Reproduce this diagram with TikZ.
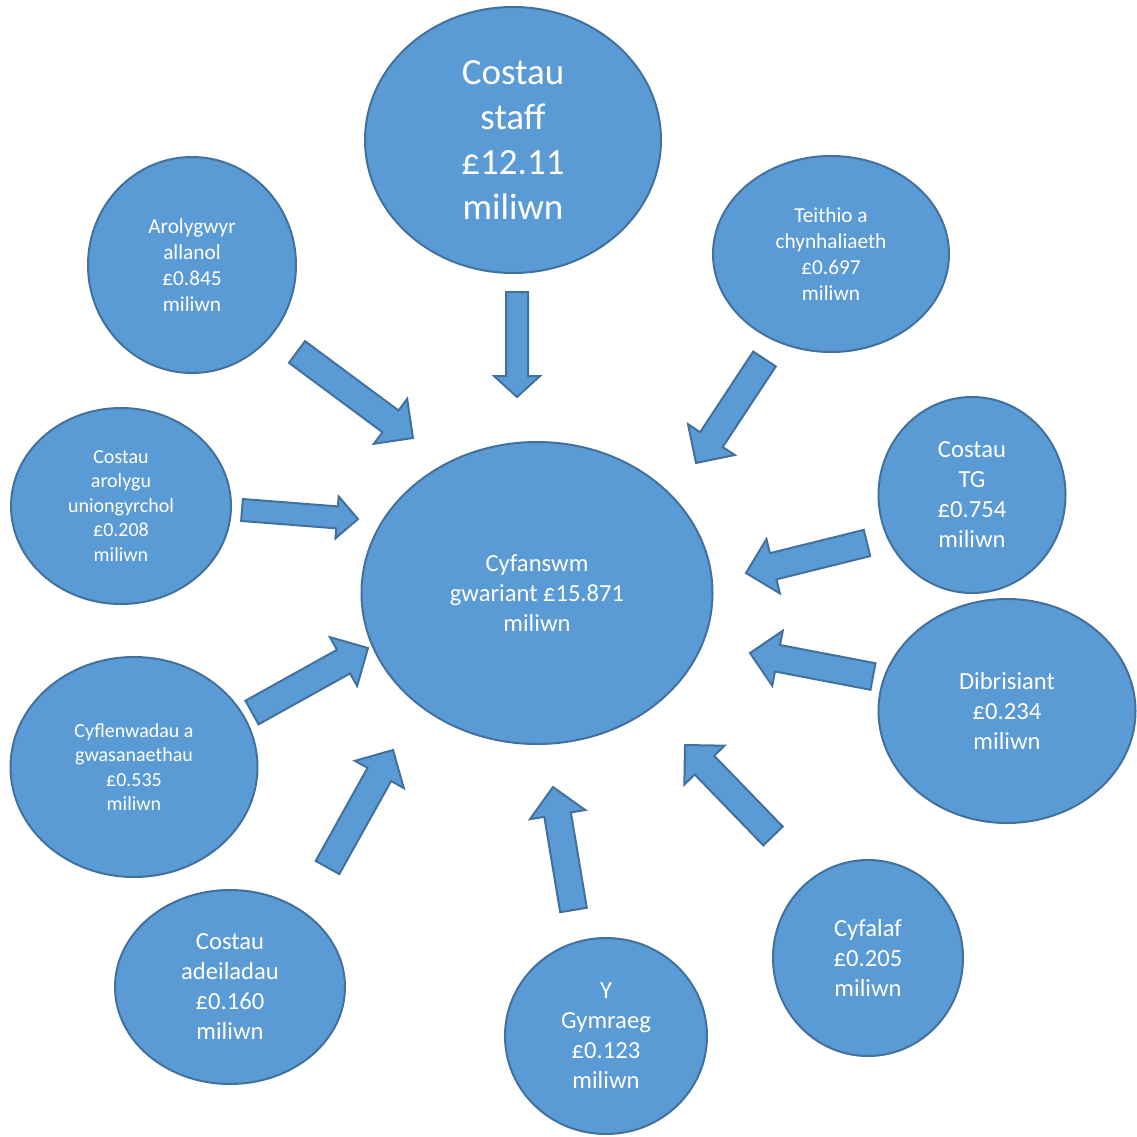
\documentclass[tikz,border=0pt]{standalone}
\usepackage{fontspec}
\setmainfont{Carlito}
\usetikzlibrary{shapes.geometric,calc}
\definecolor{bfill}{HTML}{5B9BD5}
\definecolor{bline}{HTML}{41719C}
\newcommand\mkblockarrow[5]{%
  \coordinate (#1h) at ($(#2)!#5!(#1)$);
  \draw[barrow] ($(#1)!#3!90:(#2)$) -- ($(#1h)!#3!90:(#2)$) -- ($(#1h)!#4!90:(#2)$) -- (#2)
    -- ($(#1h)!#4!-90:(#2)$) -- ($(#1h)!#3!-90:(#2)$) -- ($(#1)!#3!-90:(#2)$) -- cycle;}
\tikzset{
  bubble/.style 2 args={ellipse, draw=bline, fill=bfill, line width=2pt, inner sep=0pt,
    minimum width=#1pt, minimum height=#2pt, text=white, align=center},
  fbig/.style={font=\fontsize{37}{45}\selectfont},
  fmed/.style={font=\fontsize{24.6}{30}\selectfont},
  fsmall/.style={font=\fontsize{21.3}{26}\selectfont},
  ftiny/.style={font=\fontsize{20}{24.5}\selectfont},
  barrow/.style={draw=bline, fill=bfill, line width=2pt}
}
\begin{document}
\begin{tikzpicture}[x=1pt,y=-1pt]
\useasboundingbox (0,0) rectangle (1137,1137);
% bubbles
\node[bubble={296}{266},fbig] (staff) at (513,140) {Costau\\staff\\£12.11\\miliwn};
\node[bubble={208}{216},fsmall] (arol) at (192,265) {Arolygwyr\\allanol\\£0.845\\miliwn};
\node[bubble={236}{196},fsmall] (teith) at (831,254) {Teithio a\\chynhaliaeth\\£0.697\\miliwn};
\node[bubble={220}{196},ftiny] (arolygu) at (121,506) {Costau\\arolygu\\uniongyrchol\\£0.208\\miliwn};
\node[bubble={351}{302},fmed] (total) at (537,593) {Cyfanswm\\gwariant £15.871\\miliwn};
\node[bubble={187}{196},fmed] (tg) at (972,495) {Costau\\TG\\£0.754\\miliwn};
\node[bubble={257}{224},fmed] (dib) at (1007,711) {Dibrisiant\\£0.234\\miliwn};
\node[bubble={247}{220},ftiny] (cyfl) at (134,767) {Cyflenwadau a\\gwasanaethau\\£0.535\\miliwn};
\node[bubble={230}{194},fmed] (adeil) at (230,987) {Costau\\adeiladau\\£0.160\\miliwn};
\node[bubble={202}{196},fmed] (gym) at (606,1036) {Y\\Gymraeg\\£0.123\\miliwn};
\node[bubble={190}{196},fmed] (cyfalaf) at (868,958) {Cyfalaf\\£0.205\\miliwn};
% arrow ends
\coordinate (a1) at (517,292);   \coordinate (b1) at (517,397);
\coordinate (a2) at (297,352);   \coordinate (b2) at (413,438);
\coordinate (a3) at (764.5,359); \coordinate (b3) at (696,463);
\coordinate (a4) at (242,510);   \coordinate (b4) at (358,519);
\coordinate (a5) at (867,543);   \coordinate (b5) at (746,573);
\coordinate (a6) at (873,676.5); \coordinate (b6) at (750,653);
\coordinate (a7) at (252,712.5); \coordinate (b7) at (368,648);
\coordinate (a8) at (327.5,867.5); \coordinate (b8) at (393,750);
\coordinate (a9) at (573.5,910); \coordinate (b9) at (553,787);
\coordinate (a10) at (773,836);  \coordinate (b10) at (685,745);
\mkblockarrow{a1}{b1}{11pt}{23pt}{21pt}
\mkblockarrow{a2}{b2}{13.5pt}{28pt}{28pt}
\mkblockarrow{a3}{b3}{13.5pt}{28pt}{28pt}
\mkblockarrow{a4}{b4}{11pt}{21pt}{21pt}
\mkblockarrow{a5}{b5}{13.5pt}{28pt}{28pt}
\mkblockarrow{a6}{b6}{13.5pt}{28pt}{28pt}
\mkblockarrow{a7}{b7}{13.5pt}{28pt}{28pt}
\mkblockarrow{a8}{b8}{13.5pt}{28pt}{28pt}
\mkblockarrow{a9}{b9}{13.5pt}{28pt}{28pt}
\mkblockarrow{a10}{b10}{13.5pt}{28pt}{28pt}
\end{tikzpicture}
\end{document}
